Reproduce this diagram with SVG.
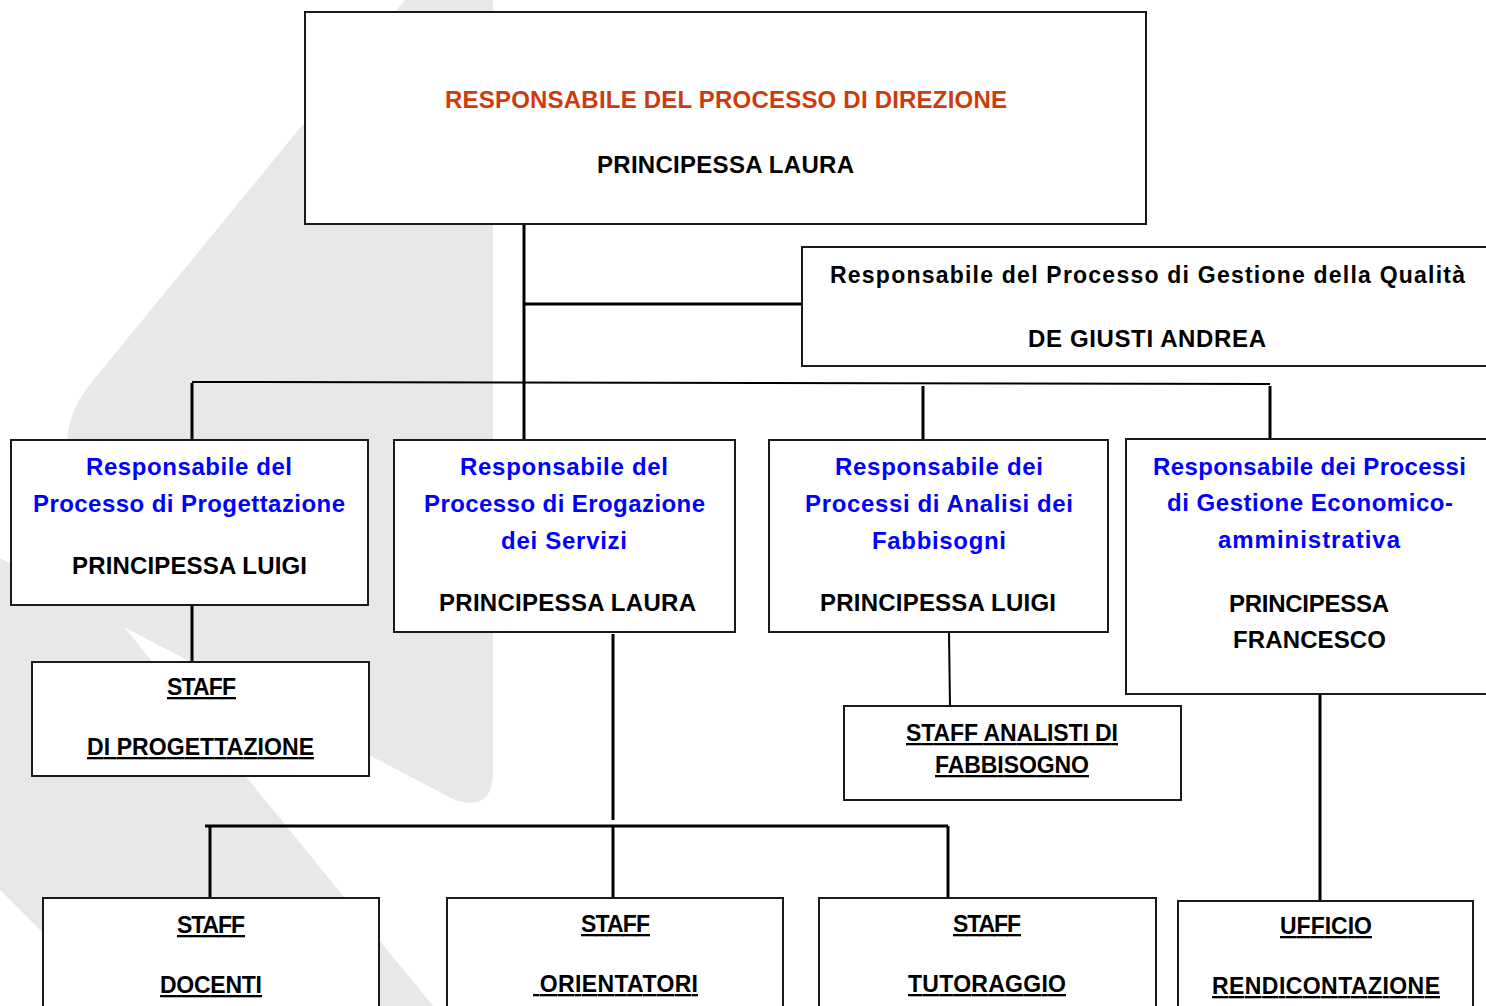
<svg xmlns="http://www.w3.org/2000/svg" width="1486" height="1006" viewBox="0 0 1486 1006">
<style>
.box{fill:#fff;stroke:#1a1a1a;stroke-width:2}
.ln{stroke:#000;stroke-width:3;fill:none}
.t{font-family:"Liberation Sans",Arial,sans-serif;font-weight:bold;text-anchor:middle}
.blue{fill:#0000ff;font-size:24px}
.blk{fill:#000;font-size:24px}
.red{fill:#cf3a0c;font-size:24px}
.u{fill:#000;font-size:23px;text-decoration:underline;white-space:pre}
</style>
<rect width="1486" height="1006" fill="#fff"/>
<g id="watermark" fill="#e9e8e7">
<path d="M405,0 L493,0 L493,772 Q493,812 455,800 L95,612 Q67,598 67,565 L67,445 Q67,410 95,378 Z"/>
<path d="M0,558 L120,622 L433,1006 L116,1006 L0,890 Z"/>
</g>
<g id="connectors">
<path class="ln" d="M524,224 V440"/>
<path class="ln" d="M524,304 H802" stroke-width="2.5"/>
<path class="ln" d="M192,382 L1270,384" style="stroke-width:2"/>
<path class="ln" d="M192,383 V440"/>
<path class="ln" d="M923,386 V440"/>
<path class="ln" d="M1270,386 V440"/>
<path class="ln" d="M192,605 V662"/>
<path class="ln" d="M949,632 L950,706" style="stroke-width:2"/>
<path class="ln" d="M613,634 V820"/>
<path class="ln" d="M205,826 H948"/>
<path class="ln" d="M210,826 V898"/>
<path class="ln" d="M613,826 V898"/>
<path class="ln" d="M948,826 V898"/>
<path class="ln" d="M1320,694 V901"/>
</g>
<g id="direzione">
<rect class="box" x="305" y="12" width="841" height="212"/>
<text class="t red" x="726" y="108" textLength="562">RESPONSABILE DEL PROCESSO DI DIREZIONE</text>
<text class="t blk" x="725.5" y="173" textLength="257">PRINCIPESSA LAURA</text>
</g>
<g id="qualita">
<rect class="box" x="802" y="247" width="700" height="119"/>
<text class="t blk" x="1147.5" y="283" textLength="635" style="font-size:23px">Responsabile del Processo di Gestione della Qualità</text>
<text class="t blk" x="1147" y="347" textLength="238">DE GIUSTI ANDREA</text>
</g>
<g id="progettazione">
<rect class="box" x="11" y="440" width="357" height="165"/>
<text class="t blue" x="189" y="475" textLength="206">Responsabile del</text>
<text class="t blue" x="189" y="512" textLength="312">Processo di Progettazione</text>
<text class="t blk" x="189.5" y="574" textLength="235">PRINCIPESSA LUIGI</text>
</g>
<g id="erogazione">
<rect class="box" x="394" y="440" width="341" height="192"/>
<text class="t blue" x="564" y="475" textLength="208">Responsabile del</text>
<text class="t blue" x="564.5" y="512" textLength="281">Processo di Erogazione</text>
<text class="t blue" x="564" y="549" textLength="126">dei Servizi</text>
<text class="t blk" x="567.5" y="611" textLength="257">PRINCIPESSA LAURA</text>
</g>
<g id="analisi">
<rect class="box" x="769" y="440" width="339" height="192"/>
<text class="t blue" x="939" y="475" textLength="208">Responsabile dei</text>
<text class="t blue" x="939" y="512" textLength="268">Processi di Analisi dei</text>
<text class="t blue" x="939" y="549" textLength="134">Fabbisogni</text>
<text class="t blk" x="938" y="611" textLength="236">PRINCIPESSA LUIGI</text>
</g>
<g id="economico">
<rect class="box" x="1126" y="439" width="380" height="255"/>
<text class="t blue" x="1309.5" y="475" textLength="313">Responsabile dei Processi</text>
<text class="t blue" x="1310" y="511" textLength="286">di Gestione Economico-</text>
<text class="t blue" x="1309" y="548" textLength="182">amministrativa</text>
<text class="t blk" x="1309" y="612" textLength="160">PRINCIPESSA</text>
<text class="t blk" x="1309.5" y="648" textLength="153">FRANCESCO</text>
</g>
<g id="staff-progettazione">
<rect class="box" x="32" y="662" width="337" height="114"/>
<text class="t u" x="201.5" y="695" textLength="69">STAFF</text>
<text class="t u" x="200.5" y="755" textLength="227">DI PROGETTAZIONE</text>
</g>
<g id="staff-analisti">
<rect class="box" x="844" y="706" width="337" height="94"/>
<text class="t u" x="1012" y="741" textLength="212">STAFF ANALISTI DI</text>
<text class="t u" x="1012" y="773" textLength="154">FABBISOGNO</text>
</g>
<g id="staff-docenti">
<rect class="box" x="43" y="898" width="336" height="120"/>
<text class="t u" x="211" y="933" textLength="68">STAFF</text>
<text class="t u" x="211" y="993" textLength="102">DOCENTI</text>
</g>
<g id="staff-orientatori">
<rect class="box" x="447" y="898" width="336" height="120"/>
<text class="t u" x="615.5" y="932" textLength="69">STAFF</text>
<text class="t u" x="615.5" y="992" textLength="165"> ORIENTATORI</text>
</g>
<g id="staff-tutoraggio">
<rect class="box" x="819" y="898" width="337" height="120"/>
<text class="t u" x="987" y="932" textLength="68">STAFF</text>
<text class="t u" x="987" y="992" textLength="158">TUTORAGGIO</text>
</g>
<g id="ufficio">
<rect class="box" x="1178" y="901" width="295" height="120"/>
<text class="t u" x="1326" y="934" textLength="92">UFFICIO</text>
<text class="t u" x="1326" y="994" textLength="228">RENDICONTAZIONE</text>
</g>
</svg>
